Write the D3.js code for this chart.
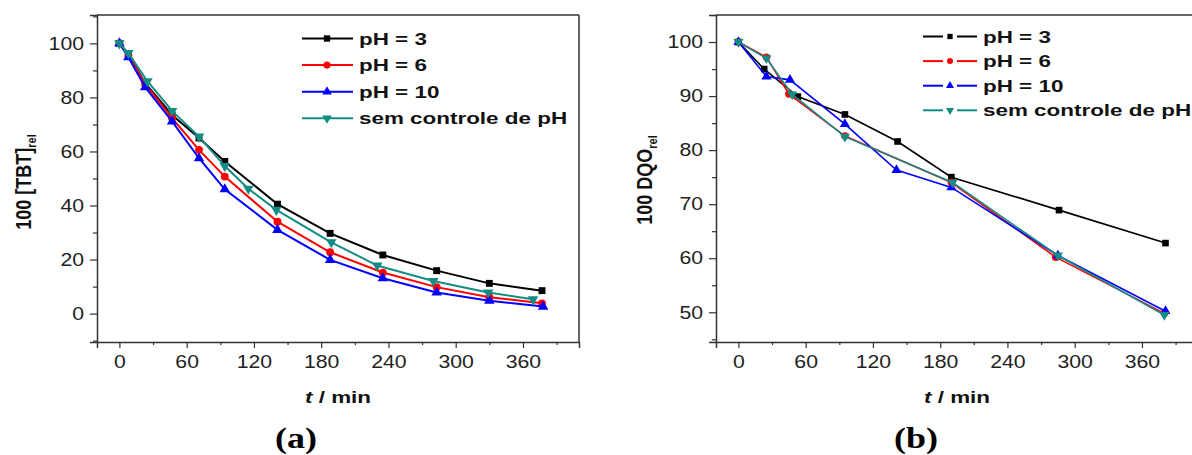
<!DOCTYPE html>
<html><head><meta charset="utf-8">
<script src="https://cdn.jsdelivr.net/npm/d3@7"></script>
<style>body{margin:0;background:#fff}svg{display:block}</style>
</head><body><svg id="c" width="1192" height="455"></svg>
<script>
// ---- Panel (a) data: 100 [TBT]rel vs t/min
const seriesNames = ["pH = 3", "pH = 6", "pH = 10", "sem controle de pH"];
const seriesColors = ["#000000", "#ff0000", "#0000ff", "#138c84"];
const seriesMarkers = ["square", "circle", "triangle", "triangleDown"];

const tA_ph3 = [0, 8, 23, 47, 71, 94, 141, 188, 235, 283, 330, 377];
const vA_ph3 = [100, 95.7, 85.3, 73.5, 65, 56.3, 40.5, 29.7, 21.7, 15.9, 11.2, 8.5];
const tA_ph6 = [0, 8, 23, 47, 71, 94, 141, 188, 235, 283, 330, 377];
const vA_ph6 = [100, 95.5, 85, 72.3, 60.6, 50.7, 34, 22.7, 15.2, 9.8, 6.1, 3.8];
const tA_ph10 = [0, 8, 23, 47, 71, 94, 141, 188, 235, 283, 330, 378];
const vA_ph10 = [100, 94.9, 83.8, 71.1, 57.5, 46, 31, 19.9, 13.1, 7.8, 4.8, 2.6];
const tA_sem = [0, 8, 25, 47, 71, 94, 115, 140, 189, 230, 280, 329, 369];
const vA_sem = [100, 96.4, 86, 75, 65.5, 54.6, 46.2, 38.4, 26.4, 17.8, 12.1, 7.8, 5.3];

// ---- Panel (b) data: 100 DQOrel vs t/min
const tB_ph3 = [0, 23, 53, 95, 142, 190, 286, 381];
const vB_ph3 = [100, 95, 89.9, 86.6, 81.6, 75, 68.9, 62.8];
const tB_ph6 = [0, 25, 45, 95, 190, 283, 380];
const vB_ph6 = [100, 97.2, 90.4, 82.6, 74, 60.2, 49.8];
const tB_ph10 = [0, 25, 46, 95, 141, 190, 285, 381];
const vB_ph10 = [100, 93.6, 93, 84.8, 76.3, 73.1, 60.5, 50.2];
const tB_sem = [0, 25, 48, 95, 191, 285, 380];
const vB_sem = [100, 97, 90.3, 82.5, 74, 60.5, 49.5];

const xTicks = [0, 60, 120, 180, 240, 300, 360];
const xMinorTicks = [30, 90, 150, 210, 270, 330, 390];
const yTicksA = [0, 20, 40, 60, 80, 100];
const yMinorA = [-10, 10, 30, 50, 70, 90, 110];
const yTicksB = [50, 60, 70, 80, 90, 100];
const yMinorB = [45, 55, 65, 75, 85, 95, 105];

const svg = d3.select("#c");
const FONT = "Liberation Sans, Arial, sans-serif";
const TICK_SX = 1.18;   // reference text is horizontally wide
const TEXT_SX = 1.32;

function markerPath(type, size) {
  const map = {square: d3.symbolSquare, circle: d3.symbolCircle, triangle: d3.symbolTriangle, triangleDown: d3.symbolTriangle};
  return d3.symbol().type(map[type]).size(size)();
}

function panel(cfg) {
  const g = svg.append("g");
  const x = d3.scaleLinear().domain([-20, 410]).range([cfg.left, cfg.left + 482]);
  const y = d3.scaleLinear().domain(cfg.yDomain).range([342, 15]);
  const axisColor = "#333";

  // frame top and right
  g.append("line").attr("x1", cfg.left).attr("x2", Math.min(cfg.left + 482, 1200)).attr("y1", 15).attr("y2", 15)
    .attr("stroke", axisColor).attr("stroke-width", 1.5);
  g.append("line").attr("x1", cfg.left + 482).attr("x2", cfg.left + 482).attr("y1", 15).attr("y2", 342)
    .attr("stroke", axisColor).attr("stroke-width", 1.5);

  // x axis
  const xa = g.append("g").attr("transform", "translate(0,342)")
    .call(d3.axisBottom(x).tickValues(xTicks).tickSize(6).tickPadding(6).tickFormat(d3.format("d")));
  g.append("g").attr("transform", "translate(0,342)")
    .call(d3.axisBottom(x).tickValues(xMinorTicks).tickSize(3).tickFormat(""))
    .call(s => s.select(".domain").remove());
  // y axis
  const ya = g.append("g").attr("transform", `translate(${cfg.left},0)`)
    .call(d3.axisLeft(y).tickValues(cfg.yTicks).tickSize(7).tickPadding(4).tickFormat(d3.format("d")));
  g.append("g").attr("transform", `translate(${cfg.left},0)`)
    .call(d3.axisLeft(y).tickValues(cfg.yMinor).tickSize(4).tickFormat(""))
    .call(s => s.select(".domain").remove());
  g.selectAll(".domain").attr("stroke", axisColor).attr("stroke-width", 1.5);
  g.selectAll(".tick line").attr("stroke", axisColor).attr("stroke-width", 1.2);
  g.selectAll(".tick text").attr("font-family", FONT).attr("font-size", 18).attr("fill", "#222")
    .attr("transform", `scale(${TICK_SX},1)`);
  xa.selectAll(".tick text").attr("dy", "0.78em");

  // series
  const line = d3.line().x(d => x(d[0])).y(d => y(d[1]));
  cfg.series.forEach((s, i) => {
    const pts = s.t.map((t, j) => [t, s.v[j]]);
    g.append("path").datum(pts).attr("d", line).attr("fill", "none")
      .attr("stroke", seriesColors[i]).attr("stroke-width", cfg.lw);
    g.selectAll(null).data(pts).enter().append("path")
      .attr("d", markerPath(seriesMarkers[i], cfg.msize))
      .attr("transform", d => `translate(${x(d[0])},${y(d[1])})` + (seriesMarkers[i] === "triangleDown" ? " rotate(180)" : ""))
      .attr("fill", seriesColors[i]);
  });

  // legend
  seriesNames.forEach((name, i) => {
    const ly = cfg.legY + i * cfg.legDy;
    const lg = g.append("g");
    if (cfg.legGap) {
      lg.append("line").attr("x1", cfg.legX0).attr("x2", cfg.legXm - 7).attr("y1", ly).attr("y2", ly)
        .attr("stroke", seriesColors[i]).attr("stroke-width", 2);
      lg.append("line").attr("x1", cfg.legXm + 7).attr("x2", cfg.legX1).attr("y1", ly).attr("y2", ly)
        .attr("stroke", seriesColors[i]).attr("stroke-width", 2);
    } else {
      lg.append("line").attr("x1", cfg.legX0).attr("x2", cfg.legX1).attr("y1", ly).attr("y2", ly)
        .attr("stroke", seriesColors[i]).attr("stroke-width", 2);
    }
    lg.append("path").attr("d", markerPath(seriesMarkers[i], cfg.legMsize))
      .attr("transform", `translate(${cfg.legXm},${ly})` + (seriesMarkers[i] === "triangleDown" ? " rotate(180)" : ""))
      .attr("fill", seriesColors[i]);
    lg.append("text").attr("transform", `translate(${cfg.legTx},${ly}) scale(${TEXT_SX},1)`).attr("dy", "0.36em")
      .attr("font-family", FONT).attr("font-weight", "bold").attr("font-size", 17)
      .attr("fill", "#111").text(name);
  });

  // x label
  const xl = g.append("text").attr("transform", `translate(${cfg.left + 241},397) scale(${TEXT_SX},1)`).attr("dy", "0.36em")
    .attr("text-anchor", "middle").attr("font-family", FONT).attr("font-weight", "bold")
    .attr("font-size", 17).attr("fill", "#111");
  xl.append("tspan").attr("font-style", "italic").text("t");
  xl.append("tspan").text(" / min");

  // y label
  const yl = g.append("text").attr("transform", `translate(${cfg.yLabX},${cfg.yLabY}) rotate(-90) scale(1,1.2)`)
    .attr("text-anchor", "middle").attr("font-family", FONT).attr("font-weight", "bold")
    .attr("font-size", 18).attr("fill", "#111");
  yl.append("tspan").text(cfg.yLabMain);
  yl.append("tspan").attr("font-size", 11).attr("dy", "0.35em").text("rel");

  // panel letter
  svg.append("text").attr("transform", `translate(${cfg.letterX},438) scale(1.2,1)`).attr("dy", "0.34em")
    .attr("text-anchor", "middle").attr("font-family", "'Times New Roman', 'Liberation Serif', serif")
    .attr("font-weight", "bold").attr("font-size", 30).attr("fill", "#000").text(cfg.letter);
}

panel({
  left: 97, yDomain: [-10.5, 110.5], yTicks: yTicksA, yMinor: yMinorA, lw: 2, msize: 48,
  series: [{t: tA_ph3, v: vA_ph3}, {t: tA_ph6, v: vA_ph6}, {t: tA_ph10, v: vA_ph10}, {t: tA_sem, v: vA_sem}],
  legX0: 302, legX1: 353, legXm: 327, legTx: 359, legY: 38.5, legDy: 26.6, legMsize: 40, legGap: false,
  yLabX: 31, yLabY: 182, yLabMain: "100 [TBT]", letter: "(a)", letterX: 296
});
panel({
  left: 716, yDomain: [44.5, 105], yTicks: yTicksB, yMinor: yMinorB, lw: 1.6, msize: 44,
  series: [{t: tB_ph3, v: vB_ph3}, {t: tB_ph6, v: vB_ph6}, {t: tB_ph10, v: vB_ph10}, {t: tB_sem, v: vB_sem}],
  legX0: 923, legX1: 977, legXm: 950, legTx: 983, legY: 36.5, legDy: 24.6, legMsize: 28, legGap: true,
  yLabX: 652, yLabY: 180, yLabMain: "100 DQO", letter: "(b)", letterX: 916
});
</script></body></html>
